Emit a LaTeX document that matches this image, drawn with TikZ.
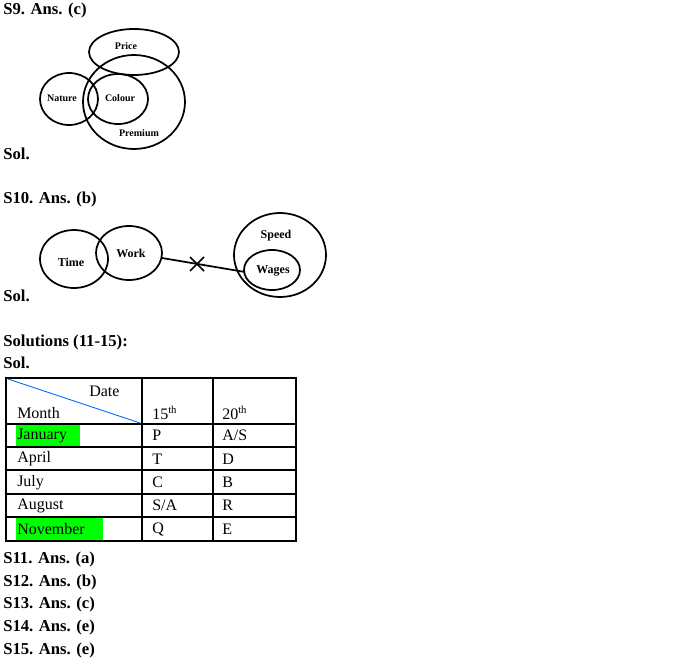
\documentclass[tikz,border=0pt]{standalone}
\usepackage{fontspec}
\setmainfont{Liberation Serif}
\begin{document}
\begin{tikzpicture}[x=0.75pt,y=-0.75pt,
  hd/.style={anchor=west,inner sep=0,font=\fontsize{12.5}{14}\selectfont\bfseries},
  lb/.style={inner sep=0,font=\fontsize{7.5}{9}\selectfont\bfseries},
  lb2/.style={inner sep=0,font=\fontsize{9}{10}\selectfont\bfseries},
  ring/.style={draw,line width=1.3pt},
  cell/.style={anchor=west,inner sep=0,font=\fontsize{12}{14}\selectfont},
  grid/.style={draw,line width=0.9pt}]
\useasboundingbox (0,0) rectangle (689,660);
\node[hd] (h9) at (3,10) {S9. Ans. (c)};
\draw[ring] (134,52) ellipse (45 and 23);
\draw[ring] (134,102) ellipse (51 and 47);
\draw[ring] (69,99) ellipse (29 and 26);
\draw[ring] (118,99) ellipse (30 and 25);
\node[lb] (pr) at (126,46) {Price};
\node[lb] (na) at (62,98) {Nature};
\node[lb] (co) at (120,98) {Colour};
\node[lb] (pm) at (139,133) {Premium};
\node[hd] (s1) at (3,154) {Sol.};
\node[hd] (h10) at (3,199) {S10. Ans. (b)};
\draw[ring] (74,259) ellipse (34 and 29);
\draw[ring] (129,253) ellipse (33 and 27);
\draw[ring] (280,255) ellipse (46 and 42);
\draw[ring] (272,270) ellipse (28 and 20);
\node[lb2] (ti) at (71,262) {Time};
\node[lb2] (wo) at (131,253) {Work};
\node[lb2] (sp) at (276,236) {Speed};
\node[lb2] (wa) at (273,271) {Wages};
\coordinate (l1) at (162,258); \coordinate (l2) at (245,272);
\draw[line width=1.3pt] (l1) -- (l2);
\draw[line width=1.1pt] (190,257) -- (204,271) (190,271) -- (204,257);
\node[hd] (s2) at (3,296) {Sol.};
\node[hd] (h11) at (3,342) {Solutions (11-15):};
\node[hd] (s3) at (3,363) {Sol.};
\fill[green!90!black,fill=green] (16,425) rectangle (80,447);
\fill[green] (16,518) rectangle (103,540);
\draw[grid] (6,378) rectangle (296,541);
\foreach \x in {142,213} \draw[grid] (\x,378) -- (\x,541);
\foreach \y in {424,447,470,494,517} \draw[grid] (6,\y) -- (296,\y);
\draw[color=blue!60!cyan,line width=0.6pt] (8,379) -- (140,423);
\node[cell] (dt) at (89,391) {Date};
\node[cell] (mo) at (17,413) {Month};
\node[cell] (c15) at (152,413) {15\textsuperscript{th}};
\node[cell] (c20) at (222,413) {20\textsuperscript{th}};
\foreach \m/\a/\b [count=\i] in {January/P/A\slash S,April/T/D,July/C/B,August/S\slash A/R,November/Q/E}{
  \pgfmathsetmacro\yy{435.5+23.4*(\i-1)}
  \node[cell] (m\i) at (17,\yy) {\m};
  \node[cell] (a\i) at (152,\yy) {\a};
  \node[cell] (b\i) at (222,\yy) {\b};
}
\node[hd] (a11) at (3,559) {S11. Ans. (a)};
\node[hd] (a12) at (3,582) {S12. Ans. (b)};
\node[hd] (a13) at (3,604) {S13. Ans. (c)};
\node[hd] (a14) at (3,627) {S14. Ans. (e)};
\node[hd] (a15) at (3,650) {S15. Ans. (e)};
\end{tikzpicture}
\end{document}
